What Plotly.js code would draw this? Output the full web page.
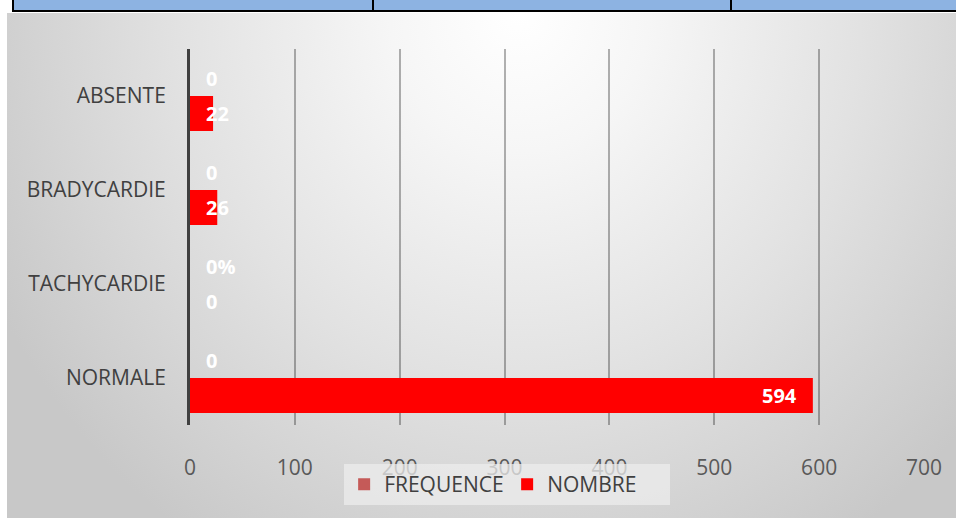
<!DOCTYPE html>
<html>
<head>
<meta charset="utf-8">
<script src="https://cdn.plot.ly/plotly-3.0.1.min.js"></script>
<style>
  html, body { margin: 0; padding: 0; width: 956px; height: 518px; overflow: hidden; background: #ffffff; }
  #strip { position: absolute; left: 12px; top: 0; width: 944px; height: 10px; background: #8DB3E2;
           border-left: 2px solid #000; border-bottom: 2px solid #000; box-sizing: content-box; }
  .sep { position: absolute; top: 0; width: 2px; height: 10px; background: #000; }
  #bg { position: absolute; left: 7px; top: 13px; width: 949px; height: 505px;
        background: radial-gradient(ellipse 62% 125% at 54% 0%, #ffffff 0%, #f6f6f6 22%, #e2e2e2 58%, #c8c8c8 100%); }
  #chart { position: absolute; left: 0; top: 0; width: 956px; height: 518px; }
</style>
</head>
<body>
<div id="strip"><div class="sep" style="left:358px"></div><div class="sep" style="left:716px"></div></div>
<div id="bg"></div>
<div id="chart"></div>
<script>
// Fréquence cardiaque : effectifs par catégorie
const categories = ['ABSENTE', 'BRADYCARDIE', 'TACHYCARDIE', 'NORMALE'];
const nombre = [22, 26, 0, 594];
const nombreLabels = ['22', '26', '0', '594'];
const frequence = [0, 0, 0, 0];
const frequenceLabels = ['0', '0', '0%', '0'];

const W = 956, H = 518;
const margin = { l: 190, r: 32, t: 49, b: 93, pad: 0 };
const bargap = 0.255;
const plotH = H - margin.t - margin.b;
const band = plotH / categories.length;
const barOffset = band * (1 - bargap) / 4;   // distance from category centre to each bar centre

const labelFont = { family: 'Open Sans', size: 20, color: '#ffffff' };

function labelsFor(values, labels, shiftY) {
  return values.map((v, i) => {
    const fitsInside = v >= 100;
    return {
      x: fitsInside ? v : 0,
      y: categories[i],
      xref: 'x', yref: 'y',
      text: '<b>' + labels[i] + '</b>',
      showarrow: false,
      xanchor: fitsInside ? 'right' : 'left',
      yanchor: 'middle',
      xshift: fitsInside ? -14 : 14,
      yshift: shiftY,
      font: labelFont
    };
  });
}

const traces = [
  {
    type: 'bar', orientation: 'h', name: 'FREQUENCE',
    y: categories, x: frequence,
    marker: { color: '#C55A58', line: { width: 0 } },
    hoverinfo: 'skip'
  },
  {
    type: 'bar', orientation: 'h', name: 'NOMBRE',
    y: categories, x: nombre,
    marker: { color: '#FF0000', line: { width: 0 } },
    hoverinfo: 'skip'
  }
];

const layout = {
  width: W, height: H,
  margin: margin,
  paper_bgcolor: 'rgba(0,0,0,0)',
  plot_bgcolor: 'rgba(0,0,0,0)',
  barmode: 'group',
  bargap: bargap,
  bargroupgap: 0,
  showlegend: true,
  legend: {
    orientation: 'h',
    x: 0.21, xanchor: 'left',
    y: -0.104, yanchor: 'top',
    entrywidth: 118,
    bgcolor: 'rgba(236,236,236,0.75)',
    font: { family: 'Open Sans', size: 21, color: '#404040' },
    itemclick: false, itemdoubleclick: false
  },
  xaxis: {
    range: [0, 700],
    dtick: 100, tick0: 0,
    showgrid: true, gridcolor: 'rgba(0,0,0,0.3)', gridwidth: 2,
    zeroline: false, showline: false,
    ticks: 'outside', ticklen: 24, tickcolor: 'rgba(0,0,0,0)',
    tickfont: { family: 'Open Sans', size: 21, color: '#595959' },
    fixedrange: true
  },
  yaxis: {
    type: 'category',
    range: [3.5, -0.5],
    showgrid: false, zeroline: false,
    showline: true, linecolor: '#404040', linewidth: 3,
    ticks: 'outside', ticklen: 17, tickcolor: 'rgba(0,0,0,0)',
    tickfont: { family: 'Open Sans', size: 21, color: '#404040' },
    fixedrange: true
  },
  annotations: labelsFor(frequence, frequenceLabels, barOffset)
    .concat(labelsFor(nombre, nombreLabels, -barOffset))
};

Plotly.newPlot('chart', traces, layout, { displayModeBar: false, staticPlot: true });
</script>
</body>
</html>
